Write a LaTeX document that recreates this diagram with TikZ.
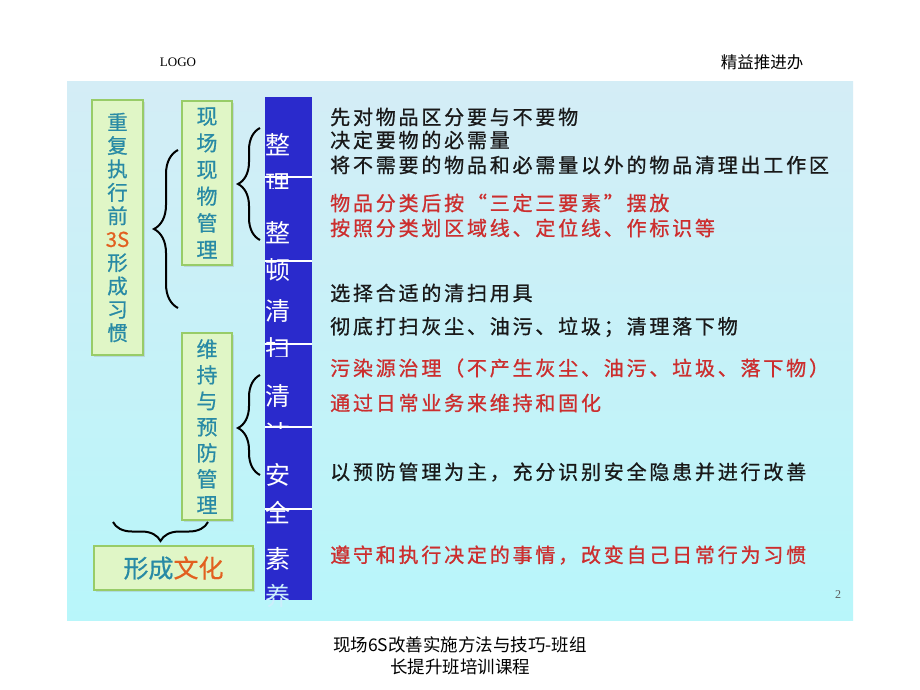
\documentclass[tikz,border=0pt]{standalone}
\usepackage{fontspec}
\setmainfont{Liberation Serif}
\newfontfamily\cjk{Noto Sans CJK SC}
\newfontfamily\cjkb[FakeBold=0.6]{Noto Sans CJK SC}
\newfontfamily\cjkls[LetterSpace=14,FakeBold=0.9]{Noto Sans CJK SC}
\usetikzlibrary{decorations.pathreplacing,shadows}
\definecolor{panTop}{RGB}{212,237,246}
\definecolor{panBot}{RGB}{184,246,250}
\definecolor{gfill}{RGB}{224,246,198}
\definecolor{gline}{RGB}{152,204,104}
\definecolor{tealtx}{RGB}{40,138,165}
\definecolor{orangetx}{RGB}{226,96,32}
\definecolor{redtx}{RGB}{204,46,46}
\definecolor{darktx}{RGB}{25,25,25}
\definecolor{colblue}{RGB}{42,42,204}
\tikzset{
  gbox/.style={draw=gline, line width=2.2pt, fill=gfill, inner sep=0pt,
    drop shadow={shadow xshift=1.8pt, shadow yshift=-1.8pt, opacity=0.22}},
  vtxt/.style={text=tealtx, align=center},
  rtxt/.style={anchor=west, inner sep=0pt, font=\cjkls\fontsize{20}{20}\selectfont},
  coltxt/.style={text=white, inner sep=0pt, font=\cjk\fontsize{25}{25}\selectfont},
  bracestyle/.style={decorate, line width=2pt, black},
  divider/.style={white, line width=1.3pt},
}
\begin{document}
\begin{tikzpicture}[x=1pt,y=-1pt]
\useasboundingbox (0,0) rectangle (920,690);
\fill[white] (0,0) rectangle (920,690);
% panel
\shade[top color=panTop, bottom color=panBot] (67,82) rectangle (853,620);
% header
\node[inner sep=0pt] (logo) at (178,62) {\fontsize{13}{13}\selectfont LOGO};
\node[inner sep=0pt] (office) at (762,62) {\cjk\fontsize{16.5}{16.5}\selectfont 精益推进办};
% left boxes
\node[gbox, minimum width=51pt, minimum height=255pt, vtxt,
  font=\cjkb\fontsize{20.5}{23.4}\selectfont] (repeat) at (117.5,227.5)
  {重\\复\\执\\行\\前\\{\color{orangetx}3S}\\形\\成\\习\\惯};
\node[gbox, minimum width=50pt, minimum height=164pt, vtxt,
  font=\cjkb\fontsize{21}{26.7}\selectfont] (site) at (207,183)
  {现\\场\\现\\物\\管\\理};
\node[gbox, minimum width=50pt, minimum height=187pt, vtxt,
  font=\cjkb\fontsize{21}{26}\selectfont] (keep) at (207,426.5)
  {维\\持\\与\\预\\防\\管\\理};
\node[gbox, minimum width=159pt, minimum height=44pt, vtxt,
  font=\cjkb\fontsize{25}{25}\selectfont] (culture) at (173.5,568)
  {形成{\color{orangetx}文化}};
% braces
\coordinate (b1s) at (178,308); \coordinate (b1e) at (178,150);
\coordinate (b2s) at (260,240); \coordinate (b2e) at (260,128);
\coordinate (b3s) at (260,475); \coordinate (b3e) at (260,375);
\coordinate (b4s) at (208,522); \coordinate (b4e) at (113,522);
\draw[bracestyle, decoration={brace, amplitude=24pt, aspect=0.5}] (b1s) -- (b1e);
\draw[bracestyle, decoration={brace, amplitude=22pt, aspect=0.5}] (b2s) -- (b2e);
\draw[bracestyle, decoration={brace, amplitude=22pt, aspect=0.47}] (b3s) -- (b3e);
\draw[bracestyle, decoration={brace, amplitude=19pt, aspect=0.5}] (b4s) -- (b4e);
% blue column
\fill[colblue] (265,97) rectangle (312,600);
\coordinate (d1l) at (265,177); \coordinate (d1r) at (312,177);
\coordinate (d2l) at (265,261); \coordinate (d2r) at (312,261);
\coordinate (d3l) at (265,344); \coordinate (d3r) at (312,344);
\coordinate (d4l) at (265,427); \coordinate (d4r) at (312,427);
\coordinate (d5l) at (265,509); \coordinate (d5r) at (312,509);
\draw[divider] (d1l) -- (d1r);
\draw[divider] (d2l) -- (d2r);
\draw[divider] (d3l) -- (d3r);
\draw[divider] (d4l) -- (d4r);
\draw[divider] (d5l) -- (d5r);
\begin{scope}
  \clip (260,97) rectangle (320,188);
  \node[coltxt] (s1a) at (278,145) {整};
  \node[coltxt] (s1b) at (278,184) {理};
\end{scope}
\node[coltxt] (s2a) at (278,233) {整};
\node[coltxt] (s2b) at (278,270) {顿};
\begin{scope}
  \clip (260,261) rectangle (320,356);
  \node[coltxt] (s3a) at (278,311) {清};
  \node[coltxt] (s3b) at (278,349) {扫};
\end{scope}
\begin{scope}
  \clip (260,344) rectangle (320,428);
  \node[coltxt] (s4a) at (278,396) {清};
  \node[coltxt] (s4b) at (278,434) {洁};
\end{scope}
\node[coltxt] (s5a) at (278,475) {安};
\node[coltxt] (s5b) at (278,513) {全};
\node[coltxt] (s6a) at (278,559) {素};
\node[coltxt, text=white!80!cyan] (s6b) at (278,596) {养};
% right texts
\node[rtxt, text=darktx] (t1) at (330,117) {先对物品区分要与不要物};
\node[rtxt, text=darktx] (t2) at (330,140) {决定要物的必需量};
\node[rtxt, text=darktx] (t3) at (330,165) {将不需要的物品和必需量以外的物品清理出工作区};
\node[rtxt, text=redtx] (t4) at (330,203) {物品分类后按“三定三要素”摆放};
\node[rtxt, text=redtx] (t5) at (330,228) {按照分类划区域线、定位线、作标识等};
\node[rtxt, text=darktx] (t6) at (330,293) {选择合适的清扫用具};
\node[rtxt, text=darktx] (t7) at (330,327) {彻底打扫灰尘、油污、垃圾；清理落下物};
\node[rtxt, text=redtx] (t8) at (330,368) {污染源治理（不产生灰尘、油污、垃圾、落下物）};
\node[rtxt, text=redtx] (t9) at (330,403) {通过日常业务来维持和固化};
\node[rtxt, text=darktx] (t10) at (330,472) {以预防管理为主，充分识别安全隐患并进行改善};
\node[rtxt, text=redtx] (t11) at (330,555) {遵守和执行决定的事情，改变自己日常行为习惯};
% page number
\node[inner sep=0pt, text=darktx!70] (pnum) at (838,595) {\fontsize{12}{12}\selectfont 2};
% footer
\node[inner sep=0pt, align=center, font=\cjk\fontsize{17.5}{22}\selectfont] (footer) at (460,656)
  {现场6S改善实施方法与技巧-班组\\长提升班培训课程};
\end{tikzpicture}
\end{document}
